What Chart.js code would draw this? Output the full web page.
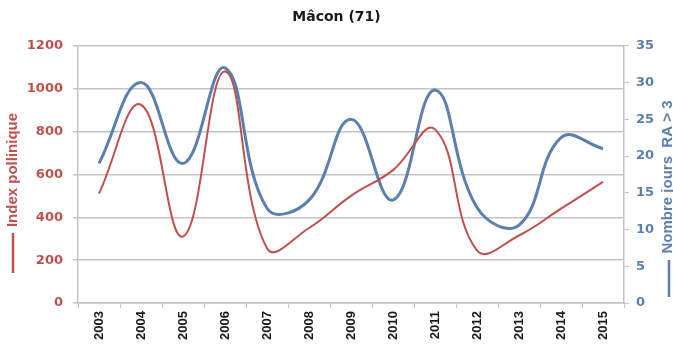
<!DOCTYPE html>
<html>
<head>
<meta charset="utf-8">
<script src="https://cdn.jsdelivr.net/npm/chart.js@4.4.1/dist/chart.umd.min.js"></script>
<style>
  html, body { margin: 0; padding: 0; background: #fff; }
  #wrap { width: 673px; height: 354px; }
</style>
</head>
<body>
<div id="wrap"><canvas id="maconChart" width="673" height="354"></canvas></div>
<script>
const years = ['2003', '2004', '2005', '2006', '2007', '2008', '2009', '2010', '2011', '2012', '2013', '2014', '2015'];
const indexPollinique = [510, 925, 310, 1080, 255, 350, 500, 620, 810, 245, 315, 440, 565];
const nombreJours = [19, 30, 19, 32, 12.9, 14, 25, 14, 29, 13, 10.6, 22.5, 21];
const leftTicks = [0, 200, 400, 600, 800, 1000, 1200];
const rightTicks = [0, 5, 10, 15, 20, 25, 30, 35];

const RED = '#c0504d';
const BLUE = '#5b7fae';
const GRID = '#c4c4c4';
const FONT = "'Liberation Sans', Arial, sans-serif";
const FONT_NARROW = "'Liberation Sans Narrow', 'Liberation Sans', Arial, sans-serif";
const FONT_WIDE = "'DejaVu Sans', sans-serif";

// axis titles with a small legend line under each
const axisTitles = {
    id: 'axisTitles',
    afterDraw(chart) {
        const c = chart.ctx;
        const draw = (x, yMid, text, color, lineX, lineTop, lineBottom) => {
            c.save();
            c.strokeStyle = color;
            c.lineWidth = 2.5;
            c.beginPath();
            c.moveTo(lineX, lineTop);
            c.lineTo(lineX, lineBottom);
            c.stroke();
            c.translate(x, yMid);
            c.rotate(-Math.PI / 2);
            c.fillStyle = color;
            c.font = 'bold 15px ' + FONT;
            c.textAlign = 'center';
            c.textBaseline = 'middle';
            c.fillText(text, 0, 0);
            c.restore();
        };
        draw(13, 170, 'Index pollinique', RED, 13, 233, 273);
        draw(668, 177, 'Nombre jours  RA > 3', BLUE, 669, 260, 297);
    }
};

new Chart(document.getElementById('maconChart'), {
    type: 'line',
    data: {
        labels: years,
        datasets: [{
            label: 'Index pollinique',
            data: indexPollinique,
            borderColor: RED,
            borderWidth: 2,
            tension: 0.42,
            pointRadius: 0,
            yAxisID: 'y'
        }, {
            label: 'Nombre jours RA > 3',
            data: nombreJours,
            borderColor: BLUE,
            borderWidth: 3,
            tension: 0.42,
            pointRadius: 0,
            yAxisID: 'y1'
        }]
    },
    options: {
        responsive: false,
        animation: false,
        layout: { padding: 0 },
        plugins: {
            legend: { display: false },
            tooltip: { enabled: false },
            title: {
                display: true,
                text: 'Mâcon (71)',
                color: '#1a1a1a',
                font: { family: FONT_WIDE, size: 14, weight: 'bold' },
                padding: { top: 9, bottom: 20 }
            }
        },
        scales: {
            x: {
                offset: true,
                grid: {
                    offset: true,
                    drawOnChartArea: false,
                    drawTicks: true,
                    tickLength: 5,
                    color: GRID
                },
                border: { color: GRID, width: 1.5 },
                ticks: {
                    color: '#1a1a1a',
                    font: { family: FONT_NARROW, size: 13, weight: 'bold' },
                    maxRotation: 90,
                    minRotation: 90,
                    padding: 3
                },
                afterFit(scale) { scale.height = 51; }
            },
            y: {
                position: 'left',
                min: 0,
                max: 1200,
                afterBuildTicks(scale) { scale.ticks = leftTicks.map(v => ({ value: v })); },
                grid: {
                    color: GRID,
                    lineWidth: 1.5,
                    tickLength: 5
                },
                border: { color: GRID, width: 1.5 },
                ticks: {
                    color: RED,
                    font: { family: FONT_WIDE, size: 13, weight: 'bold' },
                    padding: 10,
                    callback: v => String(v)
                },
                afterFit(scale) { scale.width = 78; }
            },
            y1: {
                position: 'right',
                min: 0,
                max: 35,
                afterBuildTicks(scale) { scale.ticks = rightTicks.map(v => ({ value: v })); },
                grid: {
                    drawOnChartArea: false,
                    color: GRID,
                    tickLength: 5
                },
                border: { color: GRID, width: 1.5 },
                ticks: {
                    color: BLUE,
                    font: { family: FONT_WIDE, size: 13, weight: 'bold' },
                    padding: 7,
                    callback: v => String(v)
                },
                afterFit(scale) { scale.width = 49; }
            }
        }
    },
    plugins: [axisTitles]
});
</script>
</body>
</html>
